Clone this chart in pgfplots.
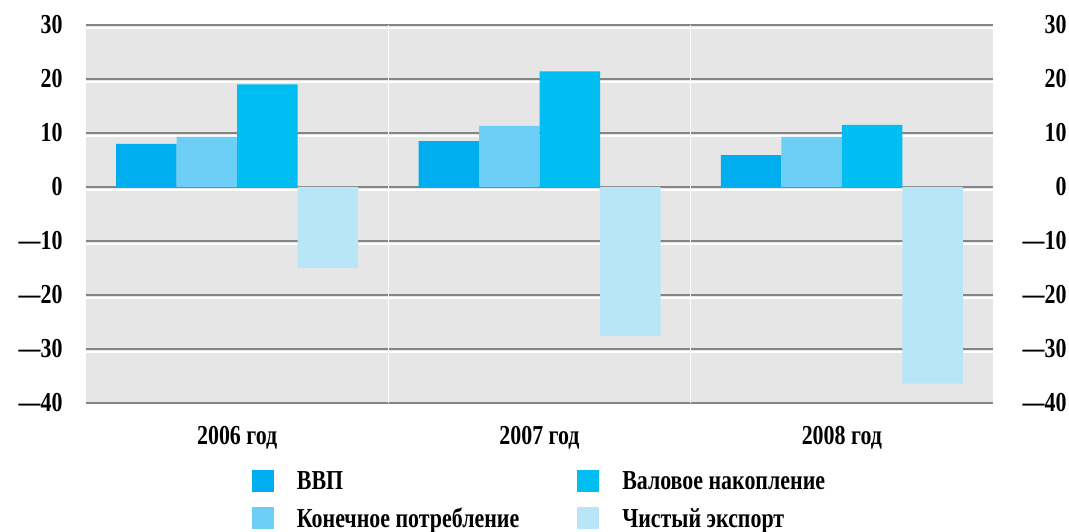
\documentclass[border=0pt]{standalone}
\usepackage{fontspec}
\setmainfont{Liberation Serif}[FakeStretch=0.8]
\usepackage{pgfplots}
\pgfplotsset{compat=1.18}
\definecolor{cA}{HTML}{00AEEF}
\definecolor{cB}{HTML}{6DCFF6}
\definecolor{cC}{HTML}{00BEF2}
\definecolor{cD}{HTML}{B9E5F8}
\definecolor{bg}{HTML}{E6E6E6}
\definecolor{gl}{HTML}{858585}
\begin{document}
\begin{tikzpicture}[font=\fontsize{27.5}{31}\selectfont\bfseries]
\useasboundingbox (0,0) rectangle (1069bp,532bp);
\begin{axis}[
  at={(86bp,129bp)}, anchor=south west, scale only axis,
  width=907bp, height=378bp,
  ymin=-40, ymax=30, xmin=-0.5, xmax=2.5,
  ybar=0pt, bar width=60.5bp,
  axis line style={draw=none}, major tick length=0pt,
  axis background/.style={fill=bg},
  ytick={-40,-30,...,30},
  yticklabels={—40,—30,—20,—10,0,10,20,30},
  yticklabel style={xshift=-20bp},
  xtick={0,1,2}, xticklabels={2006 год, 2007 год, 2008 год},
  xticklabel style={yshift=-20bp},
  ymajorgrids, major grid style={gl, line width=1.5bp},
  extra x ticks={0.5,1.5}, extra x tick labels={},
  extra x tick style={grid=major, major grid style={white, line width=1.5bp}},
  extra y ticks={-30,-20,...,30}, extra y tick labels={},
  extra y tick style={grid=major, major grid style={white, line width=1.5bp, yshift=-3bp}},
  legend style={at={(0.5,-0.17)}, anchor=north, draw=none, fill=none,
    legend columns=2, row sep=13bp,
    /tikz/every even column/.append style={column sep=56bp},
    /tikz/every odd column/.append style={column sep=21bp}},
  transpose legend,
  legend cell align=left,
  legend image code/.code={\fill[#1] (0bp,-11bp) rectangle (22bp,11bp);},
]
\addplot[fill=cA, draw=none] coordinates {(0,8.0) (1,8.5) (2,5.9)};
\addlegendentry{ВВП}
\addplot[fill=cB, draw=none] coordinates {(0,9.3) (1,11.3) (2,9.3)};
\addlegendentry{Конечное потребление}
\addplot[fill=cC, draw=none] coordinates {(0,19.0) (1,21.4) (2,11.5)};
\addlegendentry{Валовое накопление}
\addplot[fill=cD, draw=none] coordinates {(0,-15.0) (1,-27.6) (2,-36.4)};
\addlegendentry{Чистый экспорт}
\end{axis}
\begin{axis}[
  at={(86bp,129bp)}, anchor=south west, scale only axis,
  width=907bp, height=378bp,
  ymin=-40, ymax=30, xmin=-0.5, xmax=2.5,
  axis line style={draw=none}, major tick length=0pt,
  xtick=\empty,
  ytick={-40,-30,...,30},
  yticklabels={—40,—30,—20,—10,0,10,20,30},
  yticklabel pos=right,
  yticklabel style={anchor=east, xshift=77bp},
]
\end{axis}
\end{tikzpicture}
\end{document}
